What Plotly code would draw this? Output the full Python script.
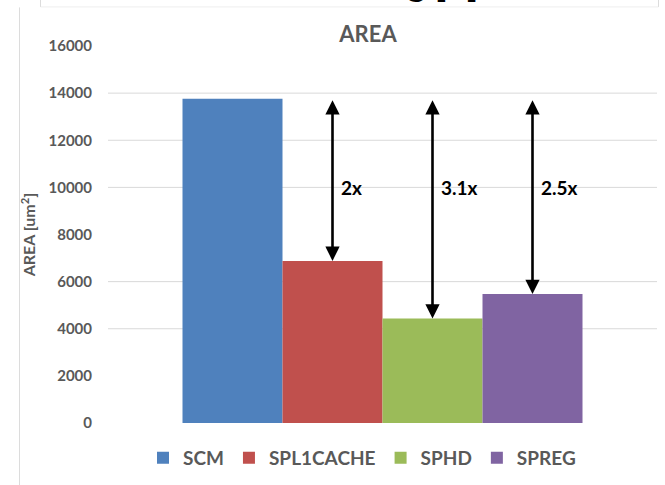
import plotly.graph_objects as go

# Area of each memory implementation, in um^2
series_names = ["SCM", "SPL1CACHE", "SPHD", "SPREG"]
area_values = [13760, 6880, 4430, 5470]
series_colors = ["#4F81BD", "#C0504D", "#9BBB59", "#8064A2"]

# y-axis ticks and the horizontal guide lines drawn across the plot
y_ticks = [0, 2000, 4000, 6000, 8000, 10000, 12000, 14000, 16000]
grid_levels = [4000, 6000, 10000, 12000, 14000]
ratio_label_level = 10000

FONT = "Lato"
GREY = "#595959"
FRAME = "#dcdcdc"

W, H = 665, 485
L, R, T, B = 108, 8, 46, 58
plot_w, plot_h = W - L - R, H - T - B


def px_x(px):
    return (px - L) / plot_w


def px_y(py):
    return (H - B - py) / plot_h


bargap = 0.2714
bar_w = (1 - bargap) / len(series_names)

fig = go.Figure()
for name, val, col in zip(series_names, area_values, series_colors):
    fig.add_trace(go.Bar(
        x=[0], y=[val], name=name,
        marker=dict(color=col, line=dict(width=0)),
        hoverinfo="name+y",
    ))

# Guide lines at selected levels, behind the bars
shapes = []
for g in grid_levels:
    shapes.append(dict(type="line", xref="paper", x0=0, x1=1, yref="y", y0=g, y1=g,
                       line=dict(color="#d9d9d9", width=1), layer="below"))

# Chart frame edges
shapes += [
    dict(type="line", xref="paper", yref="paper", x0=px_x(19.5), x1=px_x(19.5),
         y0=px_y(7), y1=px_y(490), line=dict(color=FRAME, width=1)),
    dict(type="line", xref="paper", yref="paper", x0=px_x(40.5), x1=px_x(658.5),
         y0=px_y(6.5), y1=px_y(6.5), line=dict(color="#eeeeee", width=1)),
    dict(type="line", xref="paper", yref="paper", x0=px_x(40.5), x1=px_x(40.5),
         y0=px_y(-5), y1=px_y(6.5), line=dict(color=FRAME, width=1)),
    dict(type="line", xref="paper", yref="paper", x0=px_x(658.5), x1=px_x(658.5),
         y0=px_y(-5), y1=px_y(6.5), line=dict(color=FRAME, width=1)),
]

annotations = []
base = area_values[0]
for i in range(1, len(series_names)):
    xc = (i - (len(series_names) - 1) / 2) * bar_w
    val = area_values[i]
    # double-headed arrow spanning from this bar's top to the SCM level
    annotations.append(dict(
        x=xc, y=val, xref="x", yref="y",
        ax=xc, ay=base, axref="x", ayref="y",
        showarrow=True, arrowhead=2, arrowside="end+start",
        arrowsize=1.1, arrowwidth=2.6, arrowcolor="black",
        standoff=0, startstandoff=0, text="",
    ))
    ratio = base / val
    label = f"{ratio:.1f}".rstrip("0").rstrip(".") + "x"
    annotations.append(dict(
        x=xc, y=ratio_label_level, xref="x", yref="y",
        text=label, showarrow=False, xanchor="left", yanchor="middle", xshift=6,
        font=dict(family=FONT, size=19, color="black", weight="bold"),
    ))

# Slide heading running off the top edge
annotations.append(dict(
    x=px_x(405), y=px_y(6), xref="paper", yref="paper",
    text="g [1]", showarrow=False, xanchor="left", yanchor="bottom",
    font=dict(family=FONT, size=36, color="black", weight="bold"),
))

fig.update_layout(
    width=W, height=H,
    margin=dict(l=L, r=R, t=T, b=B, pad=0),
    paper_bgcolor="white", plot_bgcolor="white",
    barmode="group", bargap=bargap, bargroupgap=0,
    title=dict(text="AREA", x=368 / W, xref="container",
               xanchor="center", y=1 - 34 / H, yanchor="middle",
               font=dict(family=FONT, size=22, color=GREY, weight="bold")),
    xaxis=dict(range=[-0.5, 0.5], showticklabels=False, showgrid=False,
               zeroline=False, showline=False, fixedrange=True),
    yaxis=dict(range=[0, 16000], tickvals=y_ticks, tickformat="d", showgrid=False,
               zeroline=False, showline=False, ticks="", ticklabelstandoff=15,
               tickfont=dict(family=FONT, size=15, color=GREY, weight="bold"),
               title=dict(text="AREA [um<sup>2</sup>]", standoff=8,
                          font=dict(family=FONT, size=16, color=GREY, weight="bold"))),
    legend=dict(orientation="h", x=px_x(143), xanchor="left", y=px_y(443), yanchor="top",
                font=dict(family=FONT, size=19, color=GREY, weight="bold"),
                itemclick=False, itemdoubleclick=False),
    shapes=shapes,
    annotations=annotations,
    showlegend=True,
)

fig.write_html("out.html")
